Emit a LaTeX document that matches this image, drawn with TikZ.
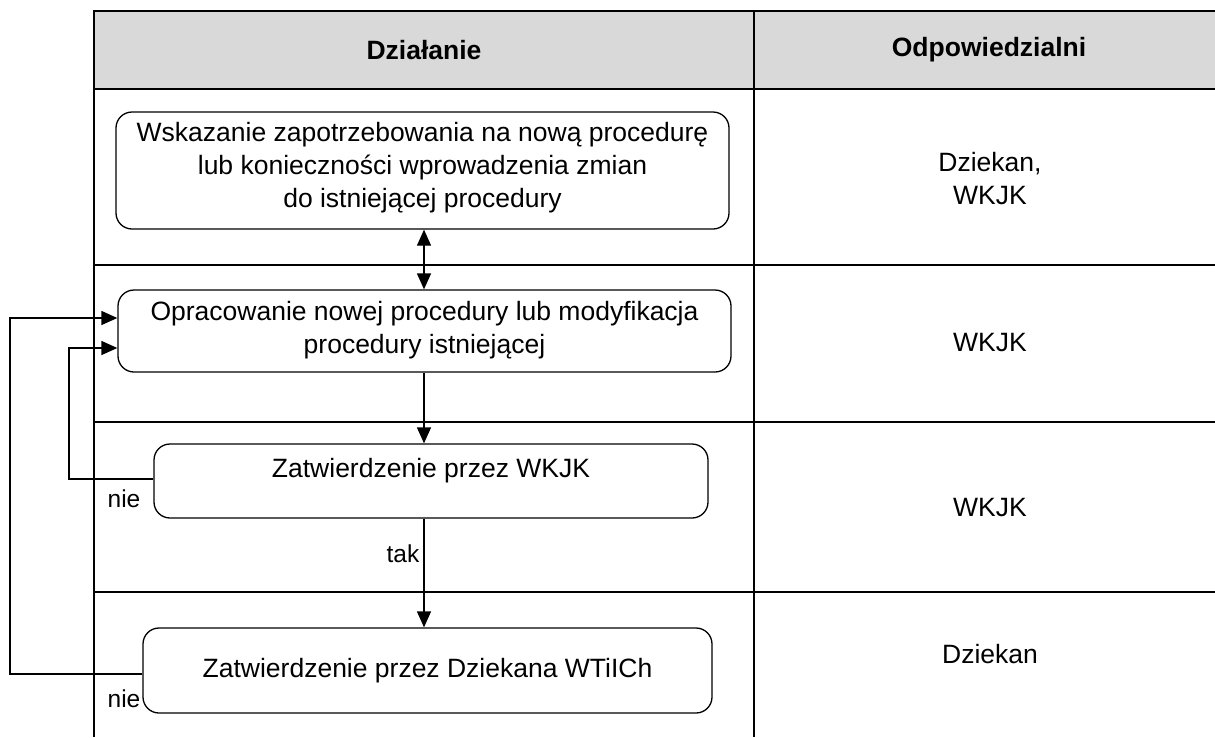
\documentclass[tikz,border=0pt]{standalone}
\usepackage{fontspec}
\setmainfont{Liberation Sans}
\usetikzlibrary{arrows.meta}
\definecolor{hdrgray}{HTML}{D9D9D9}
\tikzset{
  tline/.style={line width=2pt, black},
  box/.style={draw, line width=1.3pt, rounded corners=16pt, inner sep=0pt},
  txt/.style={font=\fontsize{26.5}{33}\selectfont, align=center, inner sep=0pt},
  hdr/.style={font=\fontsize{26.5}{33}\selectfont\bfseries, align=center, inner sep=0pt},
  lbl/.style={font=\fontsize{24.5}{28}\selectfont, inner sep=0pt},
  arr/.style={line width=1.3pt, -{Triangle[length=16pt,width=14pt]}},
  darr/.style={line width=1.3pt, {Triangle[length=16pt,width=14pt]}-{Triangle[length=16pt,width=14pt]}}
}
\begin{document}
\begin{tikzpicture}[x=1pt,y=-1pt]
\useasboundingbox (0,0) rectangle (1215,737);
% table
\fill[hdrgray] (94,11) rectangle (1215,89);
\draw[tline] (1215,11) -- (94,11) -- (94,737);
\draw[tline] (754,11) -- (754,737);
\draw[tline] (94,89) -- (1215,89);
\draw[tline] (94,265) -- (1215,265);
\draw[tline] (94,422) -- (1215,422);
\draw[tline] (94,592) -- (1215,592);
% headers
\node[hdr] (h1) at (424,50) {Działanie};
\node[hdr] (h2) at (989,50) {Odpowiedzialni};
% responsible
\node[txt] (r1) at (990,179) {Dziekan,\\WKJK};
\node[txt] (r2) at (990,343) {WKJK};
\node[txt] (r3) at (990,508) {WKJK};
\node[txt] (r4) at (990,654) {Dziekan};
% boxes
\node[box, minimum width=613pt, minimum height=117pt] (b1) at (422.5,170.5) {};
\node[txt] (t1) at (422.5,168) {Wskazanie zapotrzebowania na nową procedurę\\lub konieczności wprowadzenia zmian\\do istniejącej procedury};
\node[box, minimum width=613pt, minimum height=82pt] (b2) at (424.5,331) {};
\node[txt] (t2) at (424.5,330) {Opracowanie nowej procedury lub modyfikacja\\procedury istniejącej};
\node[box, minimum width=554pt, minimum height=74pt] (b3) at (431,481) {};
\node[txt] (t3) at (431,471) {Zatwierdzenie przez WKJK};
\node[box, minimum width=569pt, minimum height=85pt] (b4) at (427.5,670.5) {};
\node[txt] (t4) at (427.5,671) {Zatwierdzenie przez Dziekana WTiICh};
% connectors
\coordinate (ax) at (424,0);
\draw[darr] (b1.south -| ax) -- (b2.north -| ax);
\draw[arr] (b2.south -| ax) -- (b3.north -| ax);
\draw[arr] (b3.south -| ax) -- node[lbl, left=4pt, pos=0.32] (tak) {tak} (b4.north -| ax);
\coordinate (l1) at (69,0);
\coordinate (l2) at (10,0);
\draw[arr] ([yshift=2pt]b3.west) -- ([yshift=2pt]b3.west -| l1) |- ([yshift=-17pt]b2.west);
\draw[arr] ([yshift=-3.5pt]b4.west) -- ([yshift=-3.5pt]b4.west -| l2) |- ([yshift=13pt]b2.west);
\node[lbl] (n1) at (124,499) {nie};
\node[lbl] (n2) at (124,699) {nie};
\end{tikzpicture}
\end{document}
